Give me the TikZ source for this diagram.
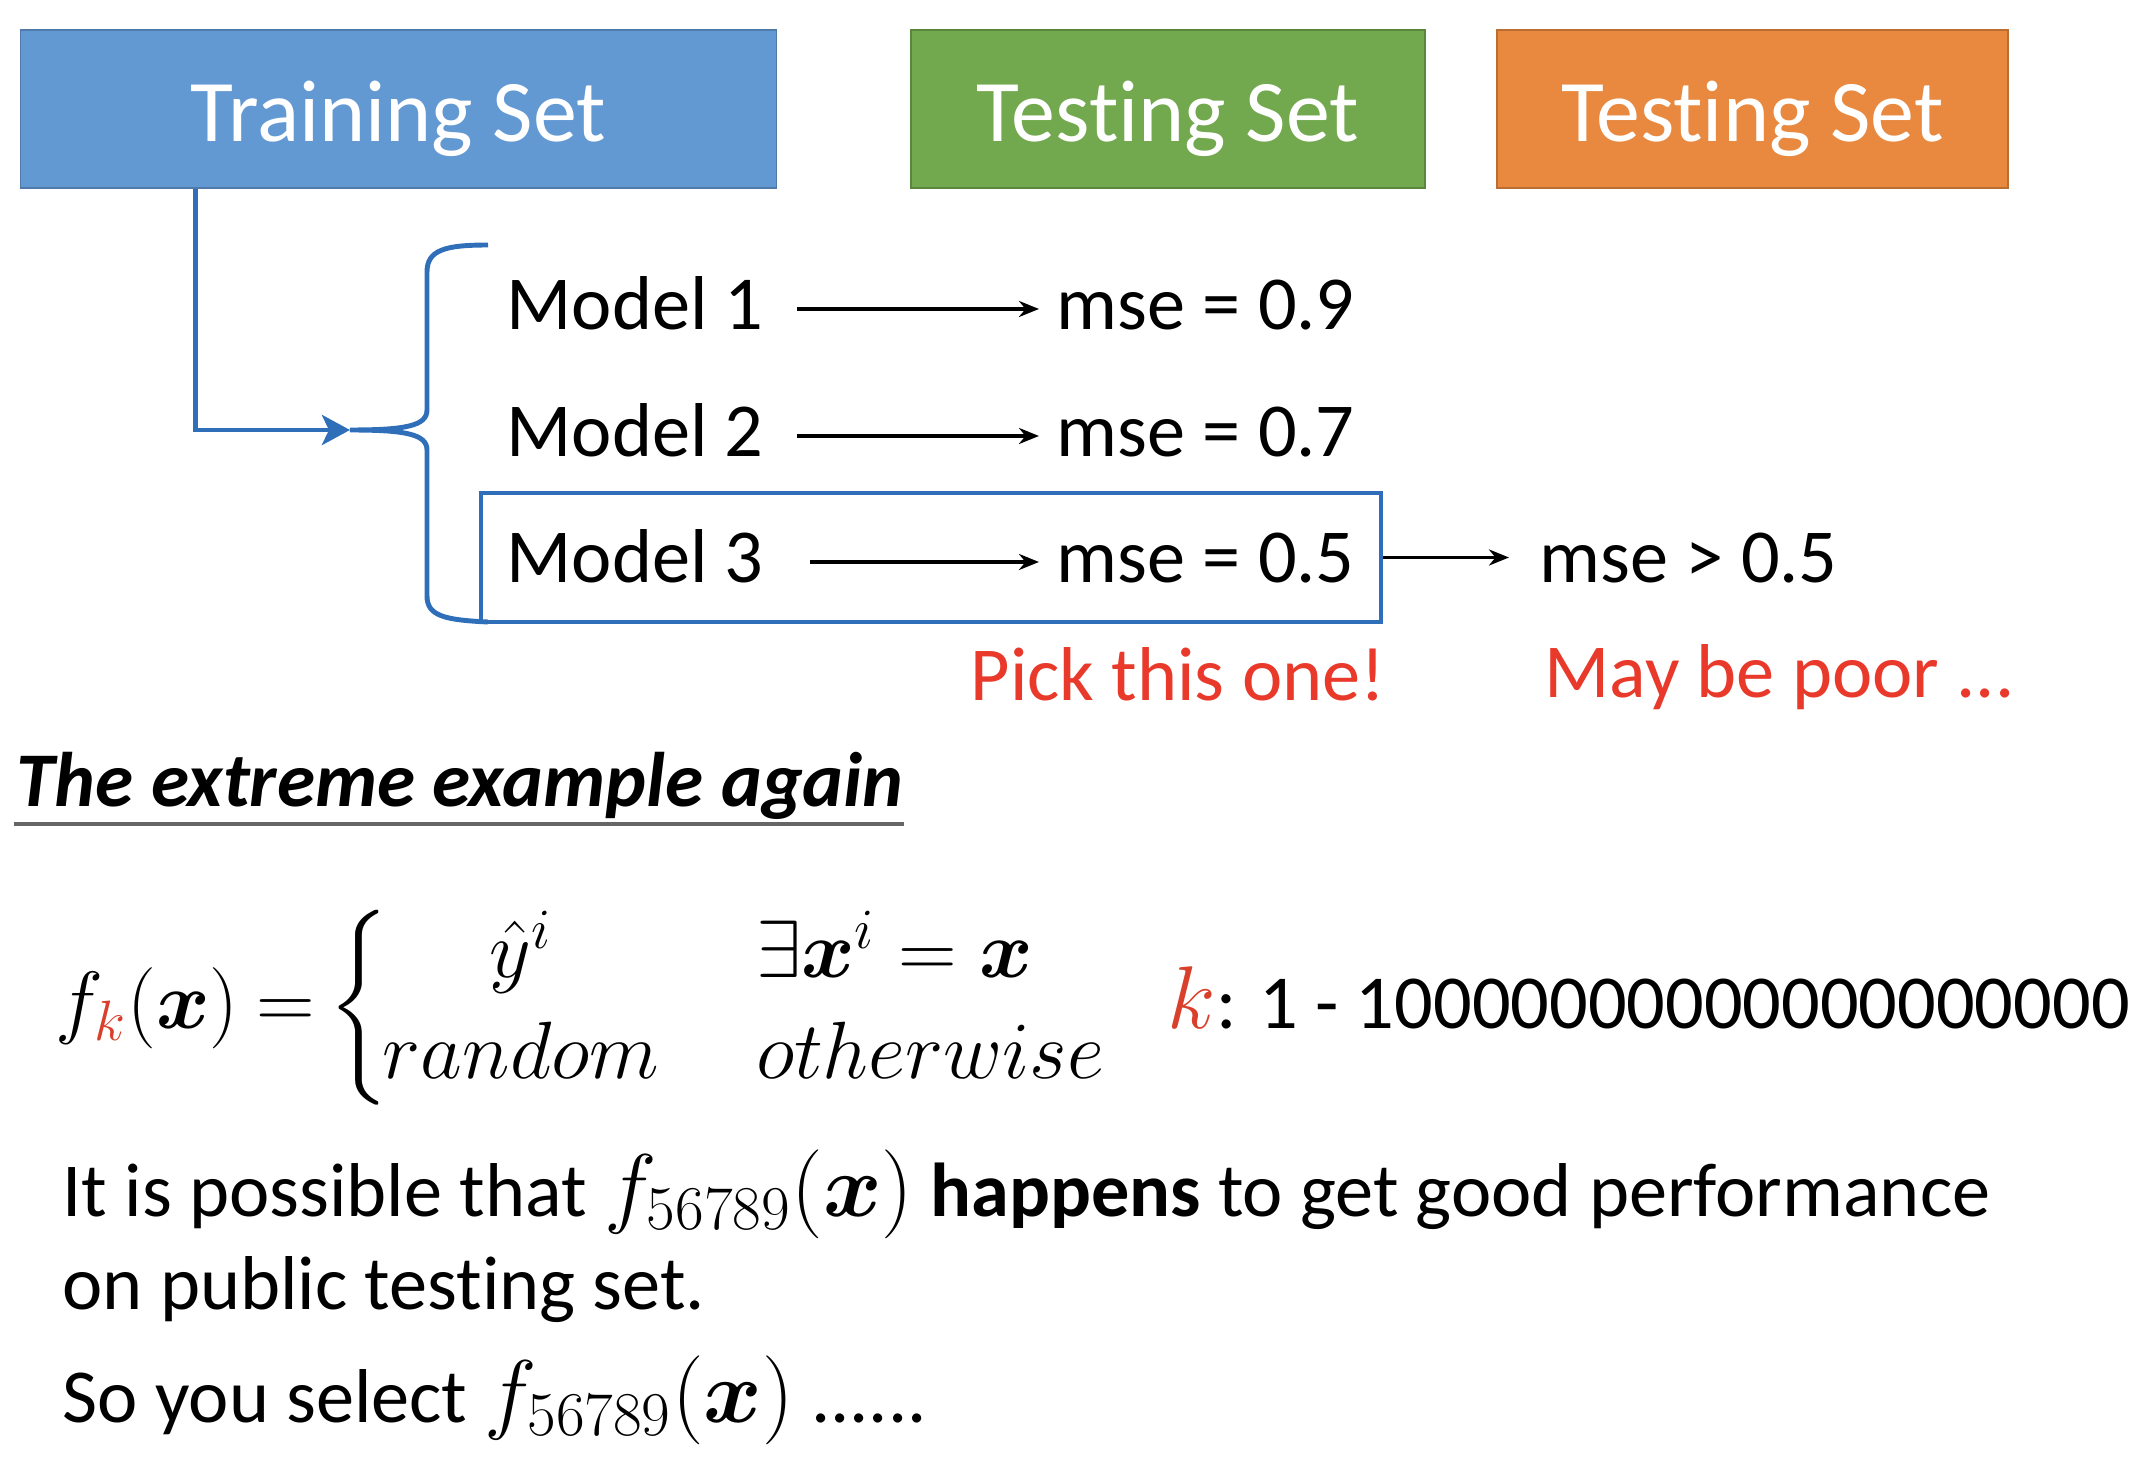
\RequirePackage{fix-cm}
\documentclass[tikz,border=0pt]{standalone}
\usepackage{amsmath,amssymb,bm}
\usepackage[no-math]{fontspec}
\setmainfont[Ligatures=NoCommon]{Carlito}
\usepackage{xcolor}
\usetikzlibrary{arrows.meta,positioning,calc}

\definecolor{setblue}{HTML}{6399D3}
\definecolor{setgreen}{HTML}{72A84E}
\definecolor{setorange}{HTML}{E8893F}
\definecolor{lineblue}{HTML}{2F6FBA}
\definecolor{pickred}{HTML}{E8392B}
\definecolor{kred}{HTML}{D9402B}
\newcommand{\bigmath}[1]{{\fontsize{25.3}{30}\selectfont#1}}

\begin{document}
\begin{tikzpicture}[x=0.01cm, y=-0.01cm, >={Stealth[length=2mm,width=1.6mm]},
every node/.style={font=\fontsize{21.7}{26}\selectfont, inner sep=0pt},
setbox/.style={draw=#1!80!black, line width=0.4pt, fill=#1, text=white, minimum height=15.8mm, text height=6.4mm, text depth=0mm, font=\fontsize{25}{30}\selectfont},
txt/.style={anchor=base west, text height=4.2mm, text depth=0pt},
flow/.style={->, line width=1pt, shorten <=3.3mm, shorten >=1.7mm},
bluel/.style={draw=lineblue, line width=1.4pt}]
\useasboundingbox (0,0) rectangle (2154,1458);
% the three sets
\node[setbox=setblue, minimum width=75.5mm] (train) at (398.5,109) {Training Set};
\node[setbox=setgreen, minimum width=51.4mm] (pubtest) at (1168,109) {Testing Set};
\node[setbox=setorange, minimum width=51.1mm] (privtest) at (1752.5,109) {Testing Set};
% models and their errors
\node[txt] (m1) at (506,330) {Model 1};
\node[txt] (e1) at (1056,330) {mse = 0.9};
\node[txt] (m2) at (506,457) {Model 2};
\node[txt] (e2) at (1056,457) {mse = 0.7};
\node[txt] (m3) at (506,583) {Model 3};
\node[txt] (e3) at (1056,583) {mse = 0.5};
\node[txt] (e4) at (1539,583) {mse > 0.5};
\draw[flow] (m1) -- (e1);
\draw[flow] (m2) -- (e2);
\draw[flow, shorten <=4.6mm] (m3) -- (e3);
\node[draw=lineblue, line width=1.2pt, minimum width=90mm, minimum height=12.9mm] (pick) at (931,557.5) {};
\draw[->, line width=1pt, shorten >=3mm] (pick.east) -- (pick.east -| e4.west);
\node[txt, text=pickred] (pickme) at (970,700) {Pick this one!};
\node[txt, text=pickred] (poor) at (1544,697) {May be poor ...};
% training set feeds every model
\coordinate (tip) at (350,430);
\draw[bluel, -{Stealth[length=2.8mm,width=3mm,inset=0.7mm]}] ([xshift=17.5mm]train.south west) |- (tip);
\draw[bluel] (488,245) .. controls (445,245) and (427,250) .. (427,272) -- (427,410)
  .. controls (427,426) and (405,430) .. (tip)
  .. controls (405,430) and (427,434) .. (427,450) -- (427,596)
  .. controls (427,616) and (445,620) .. (488,622);
% extreme example
\node[txt, font=\fontsize{22}{26}\selectfont\bfseries\itshape] (title) at (16,806) {The extreme example again};
\draw[line width=1.4pt, draw=black!60] ($(title.base west)+(-2,18)$) -- ($(title.base east)+(0,18)$);
\node[anchor=west, font=\fontsize{23.1}{28.5}\selectfont] (fk) at (55,1008)
  {$f_{\textcolor{kred}{k}}(\boldsymbol{x})\mkern-1mu=\mkern-2mu\left\{\mkern-1.5mu\begin{array}{@{}c@{\hspace{9.7mm}}l@{}}\hat{y}^i & \exists\boldsymbol{x}^i=\boldsymbol{x}\\ random & otherwise\end{array}\right.$};
\node[txt] (krange) at (1167,1028) {\bigmath{$\textcolor{kred}{k}$}: 1 - 10000000000000000000};
\node[txt] (line1) at (62,1216) {It is possible that \bigmath{$f_{56789}(\boldsymbol{x})$} \textbf{happens} to get good performance};
\node[txt] (line2) at (62,1309) {on public testing set.};
\node[txt] (line3) at (62,1422) {So you select \bigmath{$f_{56789}(\boldsymbol{x})$} ......};
\end{tikzpicture}
\end{document}
